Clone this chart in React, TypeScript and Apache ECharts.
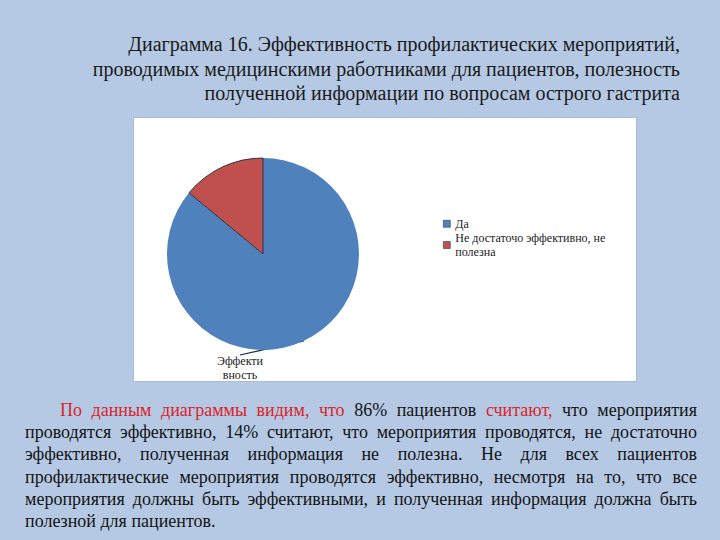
import React, { useEffect, useRef } from "react";
import * as echarts from "echarts";

const categories = ["Да", "Не достаточо эффективно, не полезна"];
const values = [86, 14];
const seriesName = "Эффективность";
const colors = ["#4f81bd", "#c0504d"];

const titleLines = [
  "Диаграмма 16. Эффективность профилактических мероприятий,",
  "проводимых медицинскими работниками для пациентов, полезность",
  "полученной информации по вопросам острого гастрита",
];

// paragraph lines; words wrapped in [] are drawn in red
const paragraphLines = [
  "[По] [данным] [диаграммы] [видим,] [что] 86% пациентов [считают,] что мероприятия",
  "проводятся эффективно, 14% считают, что мероприятия проводятся, не достаточно",
  "эффективно, полученная информация не полезна. Не для всех пациентов",
  "профилактические мероприятия проводятся эффективно, несмотря на то, что все",
  "мероприятия должны быть эффективными, и полученная информация должна быть",
  "полезной для пациентов.",
];

const SERIF = "Liberation Serif";

function measure(text: string, size: number): number {
  const c = document.createElement("canvas").getContext("2d")!;
  c.font = `${size}px "Liberation Serif"`;
  return c.measureText(text).width;
}

export default function App() {
  const ref = useRef<HTMLDivElement>(null);
  useEffect(() => {
    document.body.style.margin = "0";
    const chart = echarts.init(ref.current!, undefined, { renderer: "svg" });

    const graphic: any[] = [];
    graphic.push({
      type: "rect",
      z: -10,
      shape: { x: 133.5, y: 117.5, width: 503, height: 264 },
      style: { fill: "#ffffff", stroke: "#a9bcd6", lineWidth: 1 },
    });
    const titleSize = 20;
    titleLines.forEach((t, i) => {
      graphic.push({
        type: "text",
        x: 680,
        y: 44 + i * 24.5,
        style: {
          text: t,
          fill: "#1a1a1a",
          fontFamily: SERIF,
          fontSize: titleSize,
          align: "right",
          verticalAlign: "middle",
        },
      });
    });

    const pSize = 18;
    const left = 25;
    const right = 697;
    paragraphLines.forEach((line, li) => {
      const tokens = line.split(" ").map((w) => {
        const red = w.startsWith("[");
        return { t: red ? w.slice(1, -1) : w, red };
      });
      const x0 = li === 0 ? 60 : left;
      const y = 410 + li * 22.2;
      const widths = tokens.map((tk) => measure(tk.t, pSize));
      const total = widths.reduce((a, b) => a + b, 0);
      const justify = li < paragraphLines.length - 1;
      const gap = justify && tokens.length > 1 ? (right - x0 - total) / (tokens.length - 1) : measure(" ", pSize);
      let x = x0;
      tokens.forEach((tk, k) => {
        graphic.push({
          type: "text",
          x,
          y,
          style: {
            text: tk.t,
            fill: tk.red ? "#dc2428" : "#141414",
            fontFamily: SERIF,
            fontSize: pSize,
            align: "left",
            verticalAlign: "middle",
          },
        });
        x += widths[k] + gap;
      });
    });

    const center = [263, 254];
    const radius = 96;
    const labelX = 240;
    const labelY = 368;
    // edge point at the middle angle of the first slice (clockwise from 12 o'clock)
    const sum = values.reduce((a, b) => a + b, 0);
    const midAngle = (values[0] / sum / 2) * Math.PI * 2;
    const edge = [center[0] + radius * Math.sin(midAngle), center[1] - radius * Math.cos(midAngle)];
    const end = [labelX, labelY - 13];
    const mid = [(edge[0] + end[0]) / 2, (edge[1] + end[1]) / 2];

    chart.setOption({
      animation: false,
      backgroundColor: "#b5c9e4",
      legend: {
        orient: "vertical",
        left: 443,
        top: 217,
        padding: 0,
        itemWidth: 7,
        itemHeight: 7,
        itemGap: 1,
        icon: "rect",
        itemStyle: { borderColor: "#2d3e58", borderWidth: 0.6 },
        textStyle: { fontFamily: SERIF, fontSize: 12, color: "#222", lineHeight: 13.5 },
        formatter: (n: string) => (n === categories[1] ? "Не достаточо эффективно, не\nполезна" : n),
        data: categories,
      },
      graphic,
      series: [
        {
          type: "pie",
          name: seriesName,
          center,
          radius,
          startAngle: 90,
          clockwise: true,
          label: { show: false },
          labelLine: { show: false },
          labelLayout: (params: any) => {
            if (params.dataIndex !== 0) return {};
            return {
              x: labelX,
              y: labelY,
              align: "center",
              verticalAlign: "middle",
              labelLinePoints: [edge, mid, end],
            };
          },
          data: categories.map((c, i) => ({
            name: c,
            value: values[i],
            itemStyle: i === 1
              ? { color: colors[i], borderColor: "#30303a", borderWidth: 1 }
              : { color: colors[i], borderColor: "#ffffff", borderWidth: 0 },
            label: i === 0
              ? {
                  show: true,
                  position: "outside",
                  formatter: "Эффекти\nвность",
                  fontFamily: SERIF,
                  fontSize: 12,
                  lineHeight: 14,
                  color: "#222",
                  align: "center",
                }
              : { show: false },
            labelLine: i === 0
              ? { show: true, smooth: false, length: 4, length2: 4, lineStyle: { color: "#1f2a3a", width: 1.2 } }
              : { show: false },
          })),
        },
      ],
    });
    return () => chart.dispose();
  }, []);
  return <div ref={ref} style={{ position: "absolute", left: 0, top: 0, width: 720, height: 540 }} />;
}
